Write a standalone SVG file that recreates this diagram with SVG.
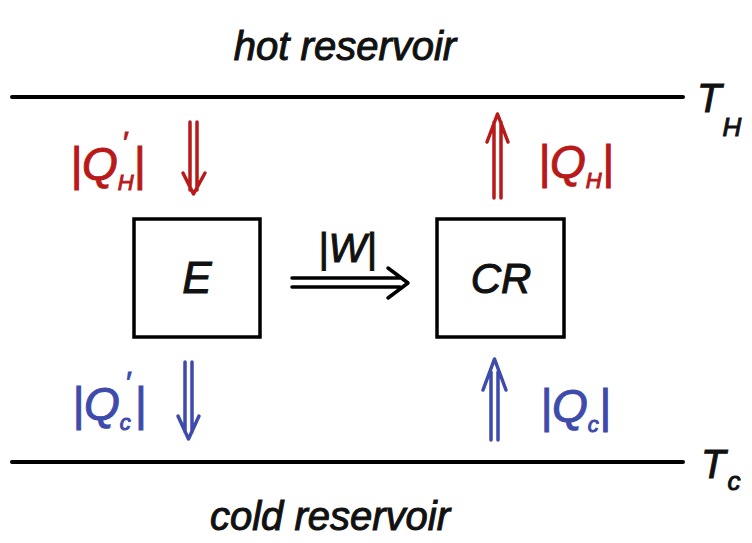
<svg xmlns="http://www.w3.org/2000/svg" width="752" height="543" viewBox="0 0 752 543">
<style>
.t{font-family:"Liberation Sans",Arial,sans-serif;font-style:italic;stroke-width:1;}
.k{fill:#111;stroke:#111;}
.r{fill:#b81a1a;stroke:#b81a1a;}
.b{fill:#3e4bab;stroke:#3e4bab;}
.ln{stroke:#000;stroke-width:4;fill:none;stroke-linecap:round;}
.box{stroke:#000;stroke-width:3.5;fill:#fff;}
.ar{fill:none;stroke-width:3.5;stroke-linecap:round;stroke-linejoin:round;}
.ar.red{stroke:#b81a1a;}
.ar.blue{stroke:#3e4bab;}
.ar.blk{stroke:#000;}
.sub{font-size:22px;}
</style>
<rect width="752" height="543" fill="#fff"/>
<g id="hot-reservoir">
<line class="ln" x1="12" y1="97" x2="683" y2="97"/>
<text class="t k" x="345" y="60" font-size="40" text-anchor="middle">hot reservoir</text>
<text class="t k" x="697" y="112" font-size="40">T<tspan font-size="26" dx="1" dy="24">H</tspan></text>
</g>
<g id="cold-reservoir">
<line class="ln" x1="12" y1="462" x2="683" y2="462"/>
<text class="t k" x="330" y="530" font-size="40" text-anchor="middle">cold reservoir</text>
<text class="t k" x="701" y="478" font-size="40">T<tspan font-size="26" dx="2" dy="12">c</tspan></text>
</g>
<g id="E">
<rect class="box" x="134" y="219" width="126" height="118"/>
<text class="t k" x="197" y="293" font-size="44" text-anchor="middle">E</text>
</g>
<g id="CR">
<rect class="box" x="437" y="219" width="127" height="118"/>
<text class="t k" x="501" y="293" font-size="42" text-anchor="middle">CR</text>
</g>
<g id="connectors">
<path class="ar red" d="M190 122V190M197 122V190M183 173L193.5 194L205 173"/>
<path class="ar red" d="M494 198V122M501 198V122M487 142L497.5 114L508 142"/>
<path class="ar blue" d="M185 362V432M192 362V432M178 416L188.5 439L199 416"/>
<path class="ar blue" d="M491 440V372M498 440V372M483 390L494.5 359L506 390"/>
<path class="ar blk" d="M292 278H400M292 287H400M388 268L408 283L388 298"/>
</g>
<g id="labels">
<text class="t r" x="70" y="180" font-size="46">|Q<tspan class="sub" dy="10">H</tspan><tspan font-size="30" dx="-12" dy="-38">′</tspan><tspan dx="6" dy="28">|</tspan></text>
<text class="t r" x="538" y="178" font-size="46">|Q<tspan class="sub" dy="10">H</tspan><tspan dy="-10">|</tspan></text>
<text class="t b" x="72" y="420" font-size="46">|Q<tspan class="sub" dy="10">c</tspan><tspan font-size="30" dx="-6" dy="-38">′</tspan><tspan dx="4" dy="28">|</tspan></text>
<text class="t b" x="540" y="422" font-size="46">|Q<tspan class="sub" dy="10">c</tspan><tspan dy="-10">|</tspan></text>
<text class="t k" x="318" y="262" font-size="40">|W|</text>
</g>
</svg>
